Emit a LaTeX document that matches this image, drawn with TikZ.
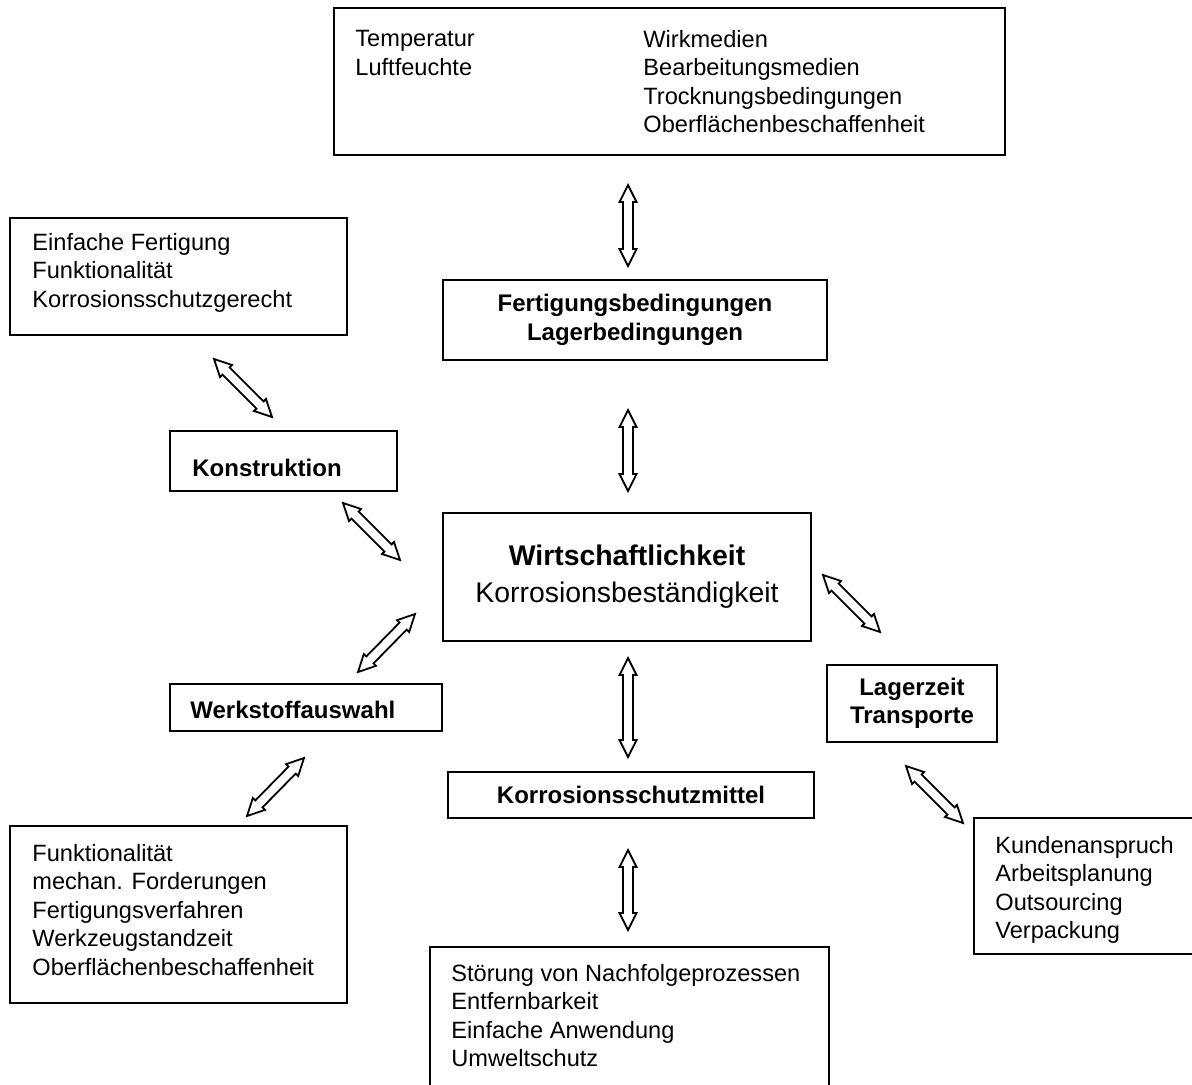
\documentclass[tikz,border=0pt]{standalone}
\usepackage{fontspec}
\setmainfont{Liberation Sans}
\usetikzlibrary{calc}

% hollow double-headed block arrow between two named coordinates
\newcommand\dblarrow[2]{%
  \path ($(#1)!8.5pt!(#2)$) coordinate (hA) ($(#2)!8.5pt!(#1)$) coordinate (hB);
  \draw[hollow] (#1) -- ($(hA)!4.25pt!90:(#2)$) -- ($(hA)!2.5pt!90:(#2)$)
    -- ($(hB)!2.5pt!-90:(#1)$) -- ($(hB)!4.25pt!-90:(#1)$) -- (#2)
    -- ($(hB)!4.25pt!90:(#1)$) -- ($(hB)!2.5pt!90:(#1)$)
    -- ($(hA)!2.5pt!-90:(#2)$) -- ($(hA)!4.25pt!-90:(#2)$) -- cycle;}

\begin{document}
\begin{tikzpicture}[x=0.5pt, y=-0.5pt,
    box/.style={draw, line width=0.8pt, inner sep=0pt},
    txt/.style={inner sep=0pt, align=left, font=\fontsize{11.8}{14.2}\selectfont},
    head/.style={align=center, font=\fontsize{12}{14.2}\selectfont\bfseries},
    hollow/.style={draw, fill=white, line width=0.9pt, line join=miter}]
  \useasboundingbox (0,0) rectangle (1192,1084);

  % boxes
  \node[box, minimum width=335.5pt, minimum height=73.5pt] (umgeb) at (669.5,81.5) {};
  \node[txt, anchor=north west] (umgebL) at (355,30) {Temperatur\\Luftfeuchte};
  \node[txt, anchor=north west] (umgebR) at (643,30)
    {Wirkmedien\\Bearbeitungsmedien\\Trocknungsbedingungen\\Oberflächenbeschaffenheit};

  \node[box, minimum width=168.5pt, minimum height=58.5pt] (einfach) at (178.5,276.5) {};
  \node[txt, anchor=north west] (einfachT) at (32,233)
    {Einfache Fertigung\\Funktionalität\\Korrosionsschutzgerecht};

  \node[box, head, minimum width=192pt, minimum height=40pt] (fertig) at (635,320)
    {Fertigungsbedingungen\\Lagerbedingungen};

  \node[box, minimum width=113.5pt, minimum height=30pt] (konstr) at (283.5,461) {};
  \node[txt, anchor=west, font=\fontsize{12}{14.2}\selectfont\bfseries] (konstrT) at (192,468) {Konstruktion};

  \node[box, align=center, font=\fontsize{14.2}{18.5}\selectfont,
    minimum width=184pt, minimum height=64pt] (wirt) at (627,577)
    {\textbf{Wirtschaftlichkeit}\\Korrosionsbeständigkeit};

  \node[box, minimum width=136pt, minimum height=23.5pt] (werk) at (306,707.5) {};
  \node[txt, anchor=west, font=\fontsize{12}{14.2}\selectfont\bfseries] (werkT) at (190,710) {Werkstoffauswahl};

  \node[box, head, minimum width=85pt, minimum height=38.5pt] (lager) at (912,703.5)
    {Lagerzeit\\Transporte};

  \node[box, head, minimum width=183pt, minimum height=23pt] (schutz) at (631,795)
    {Korrosionsschutzmittel};

  \node[box, minimum width=168.5pt, minimum height=88.5pt] (funkt) at (178.5,914.5) {};
  \node[txt, anchor=north west] (funktT) at (32,844)
    {Funktionalität\\mechan. Forderungen\\Fertigungsverfahren\\Werkzeugstandzeit\\Oberflächenbeschaffenheit};

  \node[box, minimum width=130pt, minimum height=68pt] (kunde) at (1104,886) {};
  \node[txt, anchor=north west] (kundeT) at (995,836)
    {Kundenanspruch\\Arbeitsplanung\\Outsourcing\\Verpackung};

  \node[box, minimum width=199.5pt, minimum height=76.5pt] (stoer) at (629.5,1023.5) {};
  \node[txt, anchor=north west] (stoerT) at (451,964)
    {Störung von Nachfolgeprozessen\\Entfernbarkeit\\Einfache Anwendung\\Umweltschutz};

  % arrow ends
  \coordinate (umgeb-u) at (628,185);   \coordinate (fertig-o) at (628,266);
  \coordinate (fertig-u) at (628,410);  \coordinate (wirt-o) at (628,491);
  \coordinate (einfach-u) at (214,359); \coordinate (konstr-o) at (272,417);
  \coordinate (konstr-u) at (343,503);  \coordinate (wirt-l) at (400,560);
  \coordinate (wirt-ll) at (415,614);   \coordinate (werk-o) at (358,672);
  \coordinate (werk-u) at (304,758);    \coordinate (funkt-o) at (247,816);
  \coordinate (wirt-r) at (823,575);    \coordinate (lager-o) at (880,632);
  \coordinate (wirt-u) at (628,658);    \coordinate (schutz-o) at (628,757);
  \coordinate (schutz-u) at (628,850);  \coordinate (stoer-o) at (628,930);
  \coordinate (lager-u) at (906,766);   \coordinate (kunde-o) at (963,823);

  \dblarrow{umgeb-u}{fertig-o}
  \dblarrow{fertig-u}{wirt-o}
  \dblarrow{einfach-u}{konstr-o}
  \dblarrow{konstr-u}{wirt-l}
  \dblarrow{wirt-ll}{werk-o}
  \dblarrow{werk-u}{funkt-o}
  \dblarrow{wirt-r}{lager-o}
  \dblarrow{wirt-u}{schutz-o}
  \dblarrow{schutz-u}{stoer-o}
  \dblarrow{lager-u}{kunde-o}
\end{tikzpicture}
\end{document}
